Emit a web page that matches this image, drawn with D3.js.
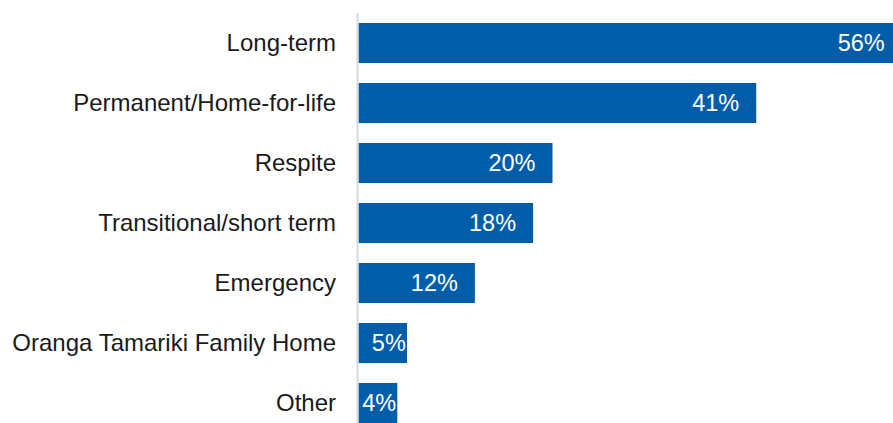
<!DOCTYPE html>
<html>
<head>
<meta charset="utf-8">
<script src="https://cdn.jsdelivr.net/npm/d3@7"></script>
<style>
  html, body { margin: 0; padding: 0; background: #fff; }
  svg { display: block; }
</style>
</head>
<body>
<svg id="chart" width="893" height="423"></svg>
<script>
// Placement types and share of respondents (%)
const categories = [
  "Long-term",
  "Permanent/Home-for-life",
  "Respite",
  "Transitional/short term",
  "Emergency",
  "Oranga Tamariki Family Home",
  "Other"
];
const values = [56, 41, 20, 18, 12, 5, 4];
const valueLabels = values.map(v => v + "%");

const W = 893, H = 423;
const axisX = 357.5;
const barColor = "#005DAA";
const fontFamily = "'Liberation Sans', Arial, Helvetica, sans-serif";
const catFontSize = 24;
const valFontSize = 23.5;

const svg = d3.select("#chart");

const x = d3.scaleLinear().domain([0, 60]).range([358.5, 358.5 + 582]);
const y = d3.scaleBand()
  .domain(categories)
  .range([13, 433])
  .paddingInner(1 / 3)
  .paddingOuter(1 / 6);

const rows = categories.map((c, i) => ({ cat: c, value: values[i], label: valueLabels[i] }));

// bars
svg.append("g")
  .selectAll("rect")
  .data(rows)
  .join("rect")
  .attr("x", x(0))
  .attr("y", d => y(d.cat))
  .attr("width", d => x(d.value) - x(0))
  .attr("height", y.bandwidth())
  .attr("fill", barColor);

// vertical category axis line
svg.append("line")
  .attr("x1", axisX).attr("x2", axisX)
  .attr("y1", 13).attr("y2", H)
  .attr("stroke", "#d9d9d9")
  .attr("stroke-width", 2);

// category labels
svg.append("g")
  .selectAll("text")
  .data(rows)
  .join("text")
  .attr("x", 336)
  .attr("y", d => y(d.cat) + y.bandwidth() / 2)
  .attr("dy", "0.35em")
  .attr("text-anchor", "end")
  .attr("font-family", fontFamily)
  .attr("font-size", catFontSize)
  .attr("fill", "#1a1a1a")
  .text(d => d.cat);

// value labels inside the bar end
svg.append("g")
  .selectAll("text")
  .data(rows)
  .join("text")
  .attr("x", d => {
    const end = x(d.value);
    return (end - x(0)) > 60 ? end - 17 : end - 1.2;
  })
  .attr("y", d => y(d.cat) + y.bandwidth() / 2)
  .attr("dy", "0.35em")
  .attr("text-anchor", "end")
  .attr("font-family", fontFamily)
  .attr("font-size", valFontSize)
  .attr("fill", "#ffffff")
  .text(d => d.label);
</script>
</body>
</html>
